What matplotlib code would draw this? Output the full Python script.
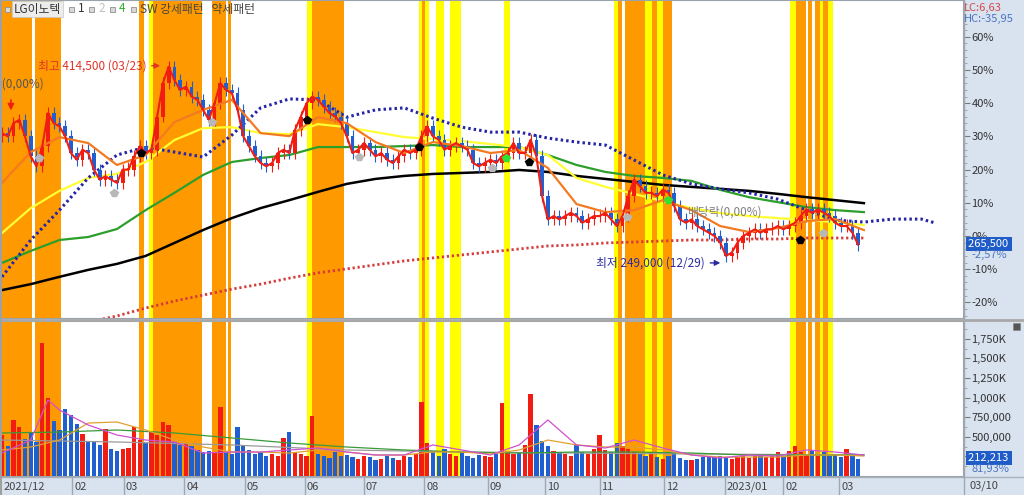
import numpy as np
import matplotlib.pyplot as plt
from matplotlib.lines import Line2D
from matplotlib.patches import Rectangle

plt.rcParams['font.family'] = ['Noto Sans CJK KR', 'DejaVu Sans']

# ---- data (price in % vs. base, volume in thousands) ----
closes = [31, 30, 34, 35, 30, 24, 21, 27, 37, 34,
          33, 30, 25, 23, 26, 25, 20, 17, 18, 17,
          16, 20, 20, 24, 27, 25, 26, 36, 46, 51,
          47, 44, 45, 42, 41, 38, 35, 40, 46, 44,
          43, 38, 30, 27, 24, 22, 21, 22, 25, 26,
          25, 32, 36, 40, 42, 41, 39, 37, 36, 34,
          30, 25, 26, 28, 26, 24, 25, 23, 22, 24,
          26, 25, 26, 30, 33, 30, 29, 26, 27, 28,
          27, 26, 22, 21, 22, 23, 22, 24, 25, 28,
          25, 25, 29, 24, 12, 5, 6, 5, 6, 7,
          6, 4, 5, 6, 6, 7, 5, 3, 6, 12,
          17, 15, 13, 13, 12, 14, 13, 9, 5, 4,
          5, 3, 2, 1, 0, -2, -6, -5, -2, 0,
          1, 2, 1, 2, 2, 3, 2, 3, 4, 6,
          8, 7, 8, 7, 6, 4, 3, 3, 1, -2.6]
first_open = 30

volumes = [520, 380, 720, 620, 470, 560, 430, 1700,
           1000, 700, 590, 850, 780, 660, 540, 450,
           430, 400, 600, 340, 320, 350, 360, 620,
           460, 420, 560, 520, 690, 650, 440, 400,
           420, 380, 330, 300, 320, 290, 880, 300,
           280, 620, 400, 330, 280, 300, 260, 280,
           260, 480, 560, 300, 280, 260, 760, 280,
           250, 230, 300, 260, 270, 240, 220, 260,
           240, 200, 220, 250, 230, 210, 260, 240,
           280, 950, 420, 300, 260, 340, 280, 260,
           300, 250, 230, 270, 260, 240, 280, 930,
           320, 280, 300, 400, 1050, 650, 450, 380,
           320, 300, 280, 260, 400, 300, 280, 350,
           520, 330, 300, 420, 380, 350, 300, 280,
           260, 300, 240, 220, 260, 300, 230, 210,
           200, 220, 240, 260, 240, 250, 230, 220,
           240, 250, 230, 260, 280, 240, 250, 300,
           260, 320, 380, 300, 280, 330, 260, 300,
           250, 280, 240, 350, 260, 212]

ma_days = list(range(0, 301, 10))
ma20 = [16.0, 25.3, 29.8, 28.0, 21.4, 24.4, 34.3, 38.0, 41.0, 31.0, 30.1, 35.8, 34.0, 28.3, 25.0, 28.3,
        27.1, 25.0, 25.9, 20.5, 9.6, 7.2, 7.8, 10.8, 7.8, 3.0, 1.2, 2.4, 4.5, 5.1, 1.8]
ma60 = [0.9, 8.4, 13.6, 17.5, 18.7, 22.3, 28.9, 32.5, 32.8, 31.0, 30.7, 33.7, 32.8, 31.3, 29.8, 29.2,
        28.6, 27.7, 26.8, 24.4, 17.5, 14.8, 12.7, 10.5, 8.4, 6.9, 6.0, 5.4, 4.8, 4.2, 3.3]
ma120 = [-8.1, -4.5, -1.2, -0.3, 2.1, 7.8, 13.0, 18.4, 22.3, 23.5, 24.4, 26.8, 26.8, 26.8, 27.1, 27.4,
         26.8, 26.8, 26.8, 24.4, 21.4, 19.3, 18.1, 17.5, 16.6, 13.9, 11.7, 10.2, 8.7, 7.8, 7.2]
ma240 = [-16.3, -14.5, -12.3, -10.2, -8.4, -6.0, -2.1, 1.8, 5.4, 8.4, 10.8, 13.3, 15.7, 17.2, 18.1, 18.7,
         19.0, 19.3, 19.9, 19.3, 18.1, 17.2, 16.3, 15.4, 14.8, 14.2, 13.6, 12.7, 11.7, 10.8, 9.9]
lead_days = ma_days + [310, 320, 325]
lead_span = [-12.3, -1.2, 7.8, 17.5, 24.4, 26.8, 25.3, 23.8, 30.4, 38.6, 41.3, 41.0, 35.8, 38.0, 38.6,
             35.5, 32.8, 31.3, 31.3, 29.5, 28.3, 27.4, 22.9, 18.4, 15.7, 14.2, 13.0, 11.1, 7.8, 4.8,
             4.2, 5.1, 5.1, 3.9]
long_days = list(range(30, 301, 10))
ma_long = [-25.9, -24.1, -21.7, -19.6, -17.8, -16.0, -14.5, -12.7, -11.1, -9.9, -8.7, -7.5, -6.6, -5.7,
           -4.8, -3.9, -3.0, -2.7, -2.1, -1.8, -1.5, -1.2, -1.2, -0.9, -0.9, -0.6, -0.6, -0.6]

vma_days = [0, 10, 16, 20, 30, 40, 50, 60, 70, 80, 90, 100, 110, 120, 130, 140, 150, 160, 170, 180,
            190, 200, 210, 220, 230, 240, 250, 260, 270, 280, 290, 300]
vma5 = [293, 459, 970, 842, 651, 523, 459, 434, 293, 306, 306, 332, 357, 306, 268, 268, 396, 332, 268,
        396, 715, 396, 357, 459, 357, 268, 230, 268, 255, 332, 306, 268]
vma20 = [332, 370, 459, 676, 689, 587, 459, 370, 306, 306, 293, 332, 306, 268, 268, 306, 306, 281, 332,
         459, 396, 370, 370, 332, 268, 242, 242, 242, 268, 268, 255]
vma60_days = list(range(0, 301, 20))
vma60 = [549, 561, 587, 549, 485, 421, 370, 332, 306, 293, 306, 306, 293, 268, 268, 268]
vma120_days = [0, 40, 80, 120, 160, 200, 240, 300]
vma120 = [459, 434, 396, 332, 306, 293, 281, 268]

# pattern bands (trading-day index)
band_start = [-2, 11.5, 47.7, 51.2, 52.6, 73.2, 78.7, 106, 108, 145.3, 146.3, 151.2, 156.1, 174.9,
              212.9, 214.3, 216.7, 223.7, 226.1, 227.9, 230, 274.2, 276.3, 280.5, 283, 284.7, 285.7, 287.5]
band_end = [10.5, 20.6, 49.5, 52.6, 69.7, 78, 79.8, 108, 119.2, 148.8, 147.4, 153.7, 159.6, 176.7,
            214.3, 215.7, 223.7, 226.1, 227.9, 230, 233.1, 276.3, 279.8, 281.9, 284.7, 285.7, 287.5, 289.2]
band_kind = ['o', 'o', 'o', 'y', 'o', 'o', 'o', 'y', 'o', 'y', 'o', 'y', 'y', 'y',
             'y', 'o', 'o', 'y', 'o', 'y', 'o', 'y', 'o', 'o', 'o', 'y', 'o', 'y']

black_marks_x = [48.4, 106.3, 145.3, 183.6, 277.7]
black_marks_y = [25.0, 34.9, 26.8, 22.3, -1.2]
gray_marks_x = [12.9, 39, 73.2, 124.4, 170.7, 217.4, 285.7]
gray_marks_y = [23.5, 13.0, 34.3, 23.8, 20.5, 5.7, 0.9]
green_marks_x = [175.6, 231.7]
green_marks_y = [23.5, 10.8]

month_days = [24.5, 42.5, 63.5, 84.5, 105.5, 126, 147, 169, 189, 208, 230.5, 251.5, 272, 291.5]
month_labels = ['02', '03', '04', '05', '06', '07', '08', '09', '10', '11', '12', '2023/01', '02', '03']

# ---- figure ----
W, H = 1024, 495
BG = '#d9e3ef'
RED = '#f21d12'
BLUE = '#1f5fd0'


def rect(x0, y0, x1, y1):
    return [x0 / W, 1 - y1 / H, (x1 - x0) / W, (y1 - y0) / H]


fig = plt.figure(figsize=(W / 100, H / 100), dpi=100, facecolor=BG)
ax = fig.add_axes(rect(1, 0, 963, 318))
axv = fig.add_axes(rect(1, 321, 963, 476))
axd = fig.add_axes(rect(1, 477, 963, 495))

xlim = (-0.35, 334.5)
days = np.arange(len(closes)) * 2
opens = [first_open] + closes[:-1]
up = [c >= o for c, o in zip(closes, opens)]
colors = [RED if u else BLUE for u in up]

for a in (ax, axv):
    for s, e, k in zip(band_start, band_end, band_kind):
        a.axvspan(s, e, color='#ff9900' if k == 'o' else '#ffff00', lw=0, zorder=0)

# candles
bottoms = [min(o, c) for o, c in zip(opens, closes)]
heights = [max(abs(c - o), 0.4) for o, c in zip(opens, closes)]
ax.vlines(days, [b - 1.8 for b in bottoms], [b + h + 1.8 for b, h in zip(bottoms, heights)],
          colors=colors, lw=0.8, zorder=3)
ax.bar(days, heights, bottom=bottoms, width=1.3, color=colors, lw=0, zorder=3)

# moving averages
ax.plot(long_days, ma_long, color='#d63a3a', lw=2, ls=(0, (0.8, 1.0)), zorder=2)
ax.plot(ma_days, ma240, color='black', lw=1.8, zorder=2)
ax.plot(ma_days, ma120, color='#2c9e2c', lw=1.6, zorder=2)
ax.plot(ma_days, ma60, color='#ffff33', lw=1.6, zorder=2)
ax.plot(lead_days, lead_span, color='#2424a8', lw=2.2, ls=(0, (0.8, 1.0)), zorder=2)
ax.plot(ma_days, ma20, color='#f47a22', lw=1.6, zorder=4)
ax.plot(days, closes, color=RED, lw=1.5, zorder=4)

ax.plot(black_marks_x, black_marks_y, 'p', color='black', ms=6, zorder=5)
ax.plot(gray_marks_x, gray_marks_y, 'p', color='#b8b8b8', ms=6, zorder=5)
ax.plot(green_marks_x, green_marks_y, 'p', color='#33e033', ms=6, zorder=5)

# annotations
ax.text(14.6, 45.8, '시작(0,00%)', ha='right', va='center', fontsize=8.5, color='#555555', clip_on=True)
ax.annotate('', xy=(3.1, 37.0), xytext=(3.1, 41.8),
            arrowprops=dict(arrowstyle='-|>', color=RED, lw=1.2, mutation_scale=9))
ax.annotate('최고 414,500 (03/23)', xy=(56, 51.3), xytext=(50.2, 51.3), ha='right', va='center',
            fontsize=8.5, color='#e0332a',
            arrowprops=dict(arrowstyle='-|>', color='#e0332a', lw=1, mutation_scale=8))
ax.annotate('최저 249,000 (12/29)', xy=(251, -8.1), xytext=(244.6, -8.1), ha='right', va='center',
            fontsize=8.5, color='#2b2ba0',
            arrowprops=dict(arrowstyle='-|>', color='#2b2ba0', lw=1, mutation_scale=8))
ax.text(238.3, 7.2, '배당락(0,00%)', ha='left', va='center', fontsize=8.5, color='#808080', zorder=6)

# volume
axv.bar(days, volumes, width=1.5, color=colors, lw=0, zorder=3)
axv.plot(vma120_days, vma120, color='#9a9a9a', lw=0.9, zorder=4)
axv.plot(vma60_days, vma60, color='#3a9a3a', lw=0.9, zorder=4)
axv.plot(ma_days, vma20, color='#e0a030', lw=0.9, zorder=4)
axv.plot(vma_days, vma5, color='#d050d0', lw=0.9, zorder=4)

# axes styling
ax.set_xlim(*xlim)
ax.set_ylim(-24.7, 71.1)
axv.set_xlim(*xlim)
axv.set_ylim(0, 1978)
for a in (ax, axv):
    a.set_facecolor('white')
    a.set_xticks([])
    a.yaxis.tick_right()
    for s in a.spines.values():
        s.set_color('#9aa3ad')
    a.tick_params(axis='y', which='major', length=5, color='#7a7a7a', labelsize=8,
                  labelcolor='#333333', pad=1)
    a.tick_params(axis='y', which='minor', length=3, color='#9a9a9a')

pct_ticks = [-20, -10, 0, 10, 20, 30, 40, 50, 60]
ax.set_yticks(pct_ticks)
ax.set_yticklabels([f'{v}%' for v in pct_ticks])
ax.set_yticks(np.arange(-24, 71, 2), minor=True)

vol_ticks = [250, 500, 750, 1000, 1250, 1500, 1750]
vol_labels = ['250,000', '500,000', '750,000', '1,000K', '1,250K', '1,500K', '1,750K']
axv.set_yticks(vol_ticks)
axv.set_yticklabels(vol_labels)
axv.set_yticks(np.arange(125, 1978, 125), minor=True)

# date bar
axd.set_facecolor(BG)
axd.set_xlim(*xlim)
axd.set_ylim(0, 1)
axd.set_xticks([])
axd.set_yticks([])
for s in axd.spines.values():
    s.set_visible(False)
axd.vlines(month_days, 0, 1, color='#a0a8b2', lw=1)
axd.text(0.5, 0.45, '2021/12', ha='left', va='center', fontsize=8, color='#444444')
for d, lab in zip(month_days, month_labels):
    axd.text(d + 0.6, 0.45, lab, ha='left', va='center', fontsize=8, color='#444444')

# separators
fig.add_artist(Line2D([0, 1], [1 - 319.5 / H, 1 - 319.5 / H], color='#a8a8a8', lw=2))
fig.add_artist(Line2D([0, 1], [1 - 476.5 / H, 1 - 476.5 / H], color='#a8b0ba', lw=1))
fig.add_artist(Line2D([963.5 / W, 963.5 / W], [0, 1], color='#a0a8b2', lw=1))
fig.add_artist(Line2D([0.5 / W, 0.5 / W], [0, 1], color='#a0a0a0', lw=1.5))

# right panel texts
fig.text(964 / W, 1 - 8 / H, 'LC:6,63', ha='left', va='center', fontsize=8, color='#d24a4a')
fig.text(964 / W, 1 - 19 / H, 'HC:-35,95', ha='left', va='center', fontsize=8, color='#4a74c4')
fig.text(968 / W, 1 - 244 / H, '265,500 ', ha='left', va='center', fontsize=8, color='white',
         bbox=dict(boxstyle='square,pad=0.15', fc='#1f5cc8', ec='none'))
fig.text(971 / W, 1 - 255 / H, '-2,57%', ha='left', va='center', fontsize=8, color='#4a74c4')
fig.text(968 / W, 1 - 458 / H, '212,213 ', ha='left', va='center', fontsize=8, color='white',
         bbox=dict(boxstyle='square,pad=0.15', fc='#1f5cc8', ec='none'))
fig.text(971 / W, 1 - 469 / H, '81,93%', ha='left', va='center', fontsize=8, color='#4a74c4')
fig.text(970 / W, 1 - 486 / H, '03/10', ha='left', va='center', fontsize=8, color='#444444')
fig.add_artist(Rectangle((1013 / W, 1 - 330 / H), 7 / W, 7 / H, fc='#555555', ec='#888888', lw=0.5))

# header
hy = 1 - 9 / H
sq = dict(boxstyle='square,pad=0.1', fc='#d0d0d0', ec='#909090', lw=0.5)
for xs in (5, 69, 89, 110, 131):
    fig.add_artist(Rectangle((xs / W, 1 - 12 / H), 5 / W, 5 / H, fc='#d8d8d8', ec='#909090', lw=0.6))
fig.text(14 / W, hy, 'LG이노텍', ha='left', va='center', fontsize=8.5, color='#333333',
         bbox=dict(boxstyle='square,pad=0.15', fc='#ececec', ec='#c8c8c8', lw=0.5))
fig.text(78 / W, hy, '1', ha='left', va='center', fontsize=8.5, color='#333333')
fig.text(98 / W, hy, '2', ha='left', va='center', fontsize=8.5, color='#c0c0c0')
fig.text(119 / W, hy, '4', ha='left', va='center', fontsize=8.5, color='#30b030')
fig.text(140 / W, hy, 'SW 강세패턴   약세패턴', ha='left', va='center', fontsize=8.5, color='#444444')

fig.savefig('out.png', dpi=100, facecolor=BG)
